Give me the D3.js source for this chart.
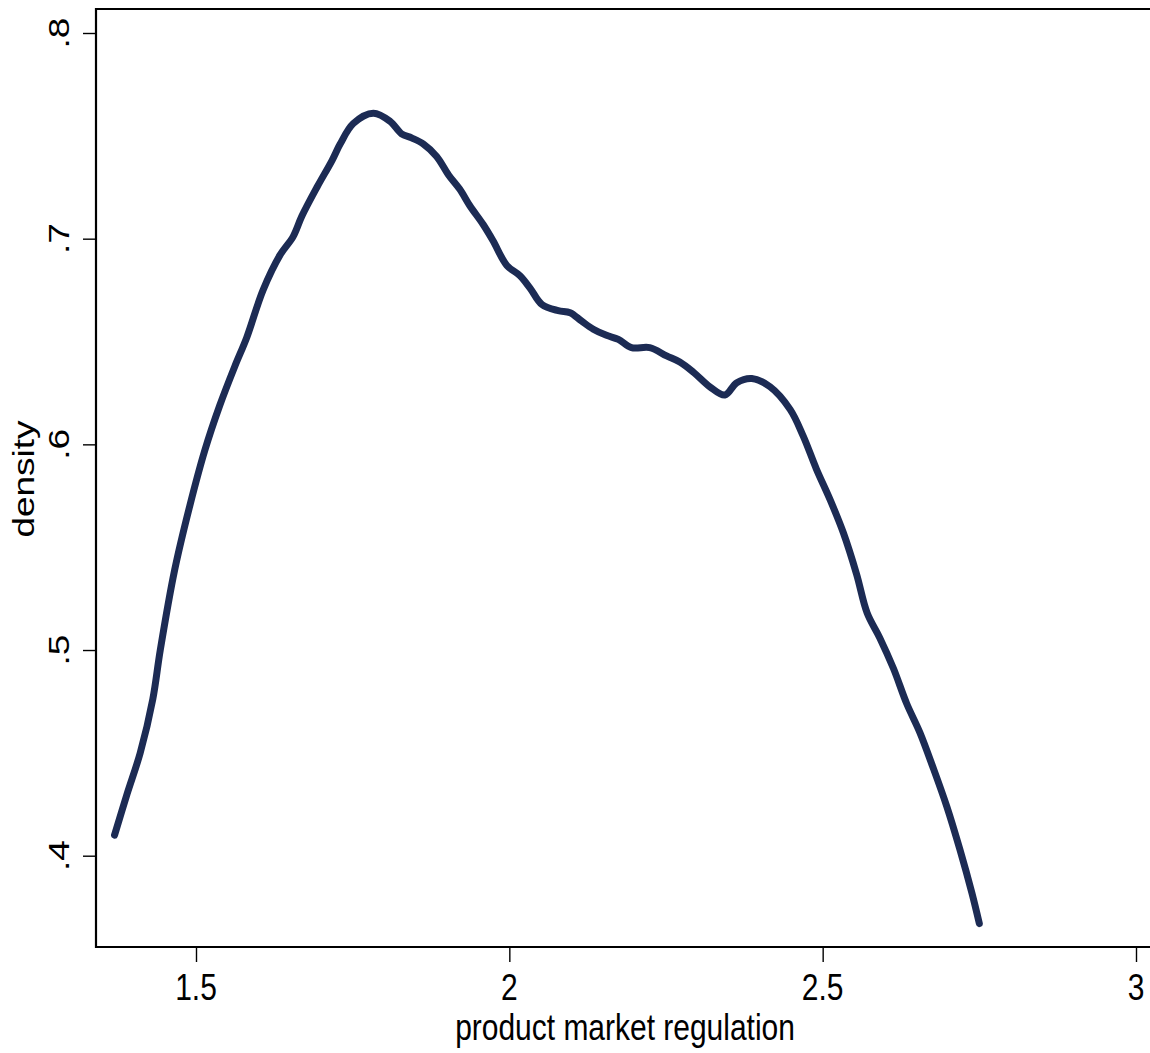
<!DOCTYPE html>
<html>
<head>
<meta charset="utf-8">
<script src="https://cdn.jsdelivr.net/npm/d3@7"></script>
<style>
  html, body { margin: 0; padding: 0; background: #ffffff; }
  svg { display: block; }
  text { font-family: "Liberation Sans", Arial, sans-serif; fill: #000; }
</style>
</head>
<body>
<svg id="chart" width="1150" height="1053"></svg>
<script>
// ---- data ----
const xValues = [1.370, 1.390, 1.411, 1.431, 1.443, 1.466, 1.490, 1.514, 1.538, 1.562,
  1.581, 1.607, 1.634, 1.655, 1.669, 1.693, 1.717, 1.730,
  1.751, 1.783, 1.810, 1.828, 1.844, 1.863, 1.884, 1.903, 1.921, 1.937,
  1.958, 1.974, 1.996, 2.017, 2.033, 2.052, 2.078, 2.097, 2.115, 2.134,
  2.155, 2.174, 2.195, 2.224, 2.251, 2.272, 2.294, 2.320, 2.344, 2.363,
  2.387, 2.416, 2.448, 2.469, 2.490, 2.512, 2.533, 2.554, 2.571, 2.591,
  2.613, 2.634, 2.655, 2.676, 2.698, 2.719, 2.738, 2.750];
const densityValues = [0.410, 0.430, 0.450, 0.476, 0.500, 0.539, 0.570, 0.597, 0.619, 0.638,
  0.652, 0.675, 0.692, 0.701, 0.711, 0.725, 0.738, 0.746,
  0.756, 0.761, 0.757, 0.751, 0.749, 0.746, 0.740, 0.731, 0.724, 0.716,
  0.707, 0.699, 0.687, 0.682, 0.676, 0.668, 0.665, 0.664, 0.660, 0.656,
  0.653, 0.651, 0.647, 0.647, 0.643, 0.640, 0.635, 0.628, 0.624, 0.630,
  0.632, 0.628, 0.617, 0.604, 0.588, 0.573, 0.557, 0.537, 0.518, 0.506,
  0.491, 0.474, 0.460, 0.443, 0.424, 0.403, 0.382, 0.367];
const xTicks = [1.5, 2, 2.5, 3];
const xTickLabels = ["1.5", "2", "2.5", "3"];
const yTicks = [0.4, 0.5, 0.6, 0.7, 0.8];
const yTickLabels = [".4", ".5", ".6", ".7", ".8"];
const xTitle = "product market regulation";
const yTitle = "density";

// ---- layout ----
const svg = d3.select("#chart");
const frameLeft = 96, frameTop = 9, frameBottom = 947, frameRight = 1150;
const x = d3.scaleLinear().domain([1.5, 3]).range([196, 1136]);
const y = d3.scaleLinear().domain([0.4, 0.8]).range([855.7, 33]);
const fontSize = 37, squeeze = 0.81;

// frame (top, left, bottom; right side is outside the window)
svg.append("path")
  .attr("d", `M${frameRight},${frameTop}H${frameLeft}V${frameBottom}H${frameRight}`)
  .attr("fill", "none").attr("stroke", "#000").attr("stroke-width", 2.2);

// y axis ticks
const yAxis = d3.axisLeft(y).tickValues(yTicks).tickSize(13).tickFormat("");
const gy = svg.append("g").attr("transform", `translate(${frameLeft},0)`).call(yAxis);
gy.select(".domain").remove();
gy.selectAll(".tick line").attr("stroke", "#000").attr("stroke-width", 1.4);

// x axis ticks
const xAxis = d3.axisBottom(x).tickValues(xTicks).tickSize(15).tickFormat("");
const gx = svg.append("g").attr("transform", `translate(0,${frameBottom})`).call(xAxis);
gx.select(".domain").remove();
gx.selectAll(".tick line").attr("stroke", "#000").attr("stroke-width", 1.4);

// x tick labels
svg.append("g").selectAll("text").data(xTicks).join("text")
  .attr("transform", d => `translate(${x(d)},1000) scale(${squeeze},1)`)
  .attr("text-anchor", "middle").attr("font-size", fontSize)
  .text((d, i) => xTickLabels[i]);

// y tick labels (rotated)
svg.append("g").selectAll("text").data(yTicks).join("text")
  .attr("transform", d => `translate(69,${y(d)}) rotate(-90) scale(1,${squeeze})`)
  .attr("text-anchor", "middle").attr("font-size", fontSize)
  .text((d, i) => yTickLabels[i]);

// axis titles
svg.append("text")
  .attr("transform", `translate(625,1040) scale(${squeeze},1)`)
  .attr("text-anchor", "middle").attr("font-size", fontSize)
  .text(xTitle);
svg.append("text")
  .attr("transform", `translate(34,479) rotate(-90) scale(1,${squeeze})`)
  .attr("text-anchor", "middle").attr("font-size", fontSize)
  .text(yTitle);

// density line
const pts = xValues.map((v, i) => [v, densityValues[i]]);
const line = d3.line().x(d => x(d[0])).y(d => y(d[1])).curve(d3.curveCatmullRom.alpha(0.5));
svg.append("path").datum(pts)
  .attr("d", line)
  .attr("fill", "none")
  .attr("stroke", "#1c2b54")
  .attr("stroke-width", 7)
  .attr("stroke-linecap", "round")
  .attr("stroke-linejoin", "round");
</script>
</body>
</html>
